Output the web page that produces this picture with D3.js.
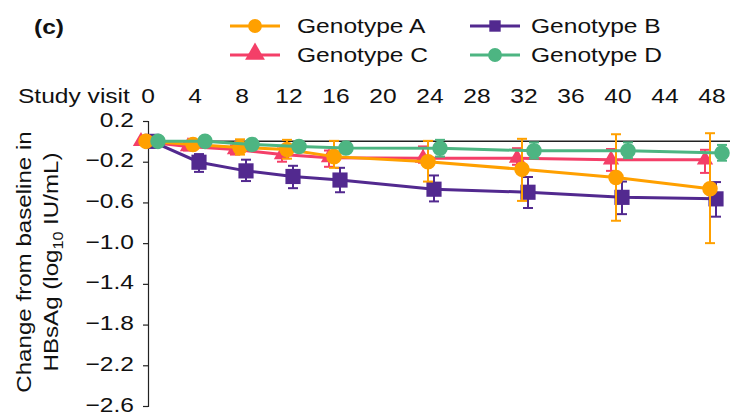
<!DOCTYPE html>
<html>
<head>
<meta charset="utf-8">
<title>HBsAg change by genotype</title>
<script src="https://cdn.jsdelivr.net/npm/d3@7"></script>
<style>
body { margin: 0; background: #fff; }
svg text { font-family: "Liberation Sans", Arial, Helvetica, sans-serif; fill: #111; }
</style>
</head>
<body>
<svg id="chart" width="730" height="413"></svg>
<script>
// study weeks
var weeks = [0, 4, 8, 12, 16, 24, 32, 40, 48];
var xTicks = [0, 4, 8, 12, 16, 20, 24, 28, 32, 36, 40, 44, 48];
var yTicks = [0.2, -0.2, -0.6, -1.0, -1.4, -1.8, -2.2, -2.6];

// mean change and error bar ends
var genoA = [0, -0.03, -0.06, -0.08, -0.15, -0.20, -0.275, -0.355, -0.465];
var genoALo = [0, -0.06, -0.13, -0.17, -0.26, -0.395, -0.585, -0.78, -1.0];
var genoAHi = [0, 0.0, 0.02, 0.015, 0.005, 0.005, 0.025, 0.07, 0.08];

var genoB = [0, -0.205, -0.29, -0.345, -0.38, -0.47, -0.50, -0.55, -0.565];
var genoBLo = [0, -0.30, -0.39, -0.46, -0.50, -0.59, -0.655, -0.715, -0.74];
var genoBHi = [0, -0.125, -0.18, -0.24, -0.26, -0.335, -0.35, -0.395, -0.40];

var genoC = [0, -0.05, -0.08, -0.13, -0.16, -0.165, -0.165, -0.18, -0.18];
var genoCLo = [0, -0.09, -0.13, -0.20, -0.25, -0.21, -0.23, -0.29, -0.31];
var genoCHi = [0, -0.01, -0.04, -0.07, -0.09, -0.05, -0.067, -0.075, -0.083];

var genoD = [0, 0.0, -0.03, -0.05, -0.065, -0.067, -0.093, -0.093, -0.115];
var genoDLo = [0, -0.02, -0.06, -0.08, -0.10, -0.15, -0.17, -0.165, -0.19];
var genoDHi = [0, 0.02, 0.0, -0.02, -0.03, 0.015, -0.01, -0.01, -0.035];

var series = [
  {name: 'Genotype C', mean: genoC, lo: genoCLo, hi: genoCHi, color: '#f43f68', shape: d3.symbolTriangle, size: 115, dx: -7},
  {name: 'Genotype B', mean: genoB, lo: genoBLo, hi: genoBHi, color: '#52298f', shape: d3.symbolSquare, size: 230, dx: 4},
  {name: 'Genotype A', mean: genoA, lo: genoALo, hi: genoAHi, color: '#ffa000', shape: d3.symbolCircle, size: 190, dx: -2},
  {name: 'Genotype D', mean: genoD, lo: genoDLo, hi: genoDHi, color: '#4db582', shape: d3.symbolCircle, size: 190, dx: 10}
];

// the figure's type is set wide; stretch each label around its anchor
var K = 1.17;
function stretch(sel) {
  sel.each(function() {
    var t = d3.select(this);
    var tx = +t.attr('x') || 0, ty = +t.attr('y') || 0;
    t.attr('transform', 'translate(' + tx + ',' + ty + ') scale(' + K + ',1) translate(' + (-tx) + ',' + (-ty) + ')');
  });
}

var svg = d3.select('#chart');
var x = d3.scaleLinear().domain([0, 48]).range([148, 712]);
var y = d3.scaleLinear().domain([0.2, -2.6]).range([121, 406]);

// y axis
var yAxis = svg.append('g').attr('transform', 'translate(148,0)')
  .call(d3.axisLeft(y).tickValues(yTicks).tickSize(5).tickPadding(9)
    .tickFormat(function(d) { return d3.format('.1f')(d).replace('-', '\u2013'); }));
yAxis.select('.domain').attr('stroke', '#222').attr('stroke-width', 1.2);
yAxis.selectAll('.tick line').attr('stroke', '#222').attr('stroke-width', 1.2);
yAxis.selectAll('text').style('font-size', '21px').attr('dy', '0.24em').call(stretch);

// x tick labels along the top
var xAxis = svg.append('g').attr('transform', 'translate(0,103)');
xAxis.selectAll('text').data(xTicks).join('text')
  .attr('x', function(d) { return x(d); })
  .attr('text-anchor', 'middle')
  .style('font-size', '21px')
  .text(function(d) { return d; })
  .call(stretch);
svg.append('text').attr('x', 18).attr('y', 103)
  .style('font-size', '21px')
  .text('Study visit')
  .call(stretch);

// zero reference line
svg.append('line')
  .attr('x1', x(0)).attr('x2', 730)
  .attr('y1', y(0)).attr('y2', y(0))
  .attr('stroke', '#222').attr('stroke-width', 1.5);

// y axis title
var title = svg.append('text')
  .attr('transform', 'translate(0,262) rotate(-90) scale(1.15,1)')
  .attr('text-anchor', 'middle')
  .style('font-size', '21px');
title.append('tspan').attr('x', 0).attr('y', 31).text('Change from baseline in');
title.append('tspan').attr('x', 0).attr('y', 58).text('HBsAg (log');
title.append('tspan').attr('dy', 5).style('font-size', '14px').text('10');
title.append('tspan').attr('dy', -5).text(' IU/mL)');

// panel tag
svg.append('text').attr('x', 34).attr('y', 34)
  .style('font-size', '21px').style('font-weight', 'bold').text('(c)')
  .call(stretch);

var line = d3.line();

series.forEach(function(s) {
  var g = svg.append('g');
  var pts = weeks.map(function(w, i) { return [x(w) + s.dx, y(s.mean[i])]; });

  // error bars
  weeks.forEach(function(w, i) {
    if (s.lo[i] === s.hi[i]) return;
    var cx = x(w) + s.dx;
    g.append('line').attr('x1', cx).attr('x2', cx)
      .attr('y1', y(s.lo[i])).attr('y2', y(s.hi[i]))
      .attr('stroke', s.color).attr('stroke-width', 2);
    [s.lo[i], s.hi[i]].forEach(function(v) {
      g.append('line').attr('x1', cx - 5).attr('x2', cx + 5)
        .attr('y1', y(v)).attr('y2', y(v))
        .attr('stroke', s.color).attr('stroke-width', 2);
    });
  });

  g.append('path').attr('d', line(pts))
    .attr('fill', 'none').attr('stroke', s.color).attr('stroke-width', 3);

  g.selectAll('.mk').data(pts).join('path')
    .attr('transform', function(p) { return 'translate(' + p[0] + ',' + p[1] + ')'; })
    .attr('d', d3.symbol().type(s.shape).size(s.size))
    .attr('fill', s.color);
});

// legend
var legendItems = [
  {s: series[2], lx: 230, tx: 297, ly: 26},
  {s: series[1], lx: 470, tx: 531, ly: 26},
  {s: series[0], lx: 230, tx: 297, ly: 55},
  {s: series[3], lx: 470, tx: 531, ly: 55}
];
legendItems.forEach(function(d) {
  var g = svg.append('g');
  g.append('line').attr('x1', d.lx).attr('x2', d.lx + 50)
    .attr('y1', d.ly).attr('y2', d.ly)
    .attr('stroke', d.s.color).attr('stroke-width', 3);
  var sz = d.s.shape === d3.symbolTriangle ? 170 : (d.s.shape === d3.symbolSquare ? 130 : 150);
  g.append('path')
    .attr('transform', 'translate(' + (d.lx + 25) + ',' + (d.ly + (d.s.shape === d3.symbolTriangle ? -1 : 0)) + ')')
    .attr('d', d3.symbol().type(d.s.shape).size(sz))
    .attr('fill', d.s.color);
  g.append('text').attr('x', d.tx).attr('y', d.ly + 7)
    .style('font-size', '21px')
    .text(d.s.name)
    .call(stretch);
});
</script>
</body>
</html>
